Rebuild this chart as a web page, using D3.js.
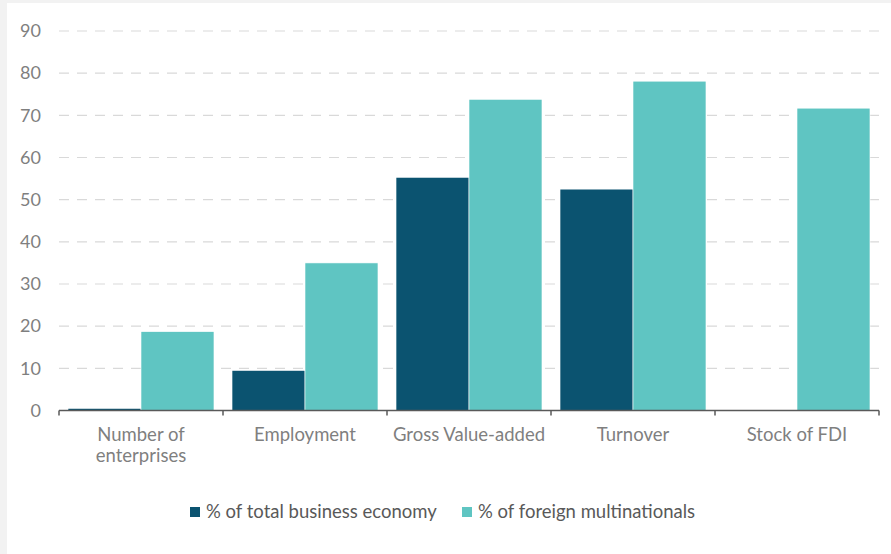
<!DOCTYPE html>
<html>
<head>
<meta charset="utf-8">
<script src="https://cdn.jsdelivr.net/npm/d3@7"></script>
<style>
  body { margin: 0; background: #f2f2f2; }
  svg { display: block; font-family: Lato, "Open Sans", sans-serif; }
</style>
</head>
<body>
<div id="chart"></div>
<script>
// data
var categories = [["Number of", "enterprises"], ["Employment"], ["Gross Value-added"], ["Turnover"], ["Stock of FDI"]];
var seriesNames = ["% of total business economy", "% of foreign multinationals"];
var totalEconomy = [0.5, 9.5, 55.3, 52.5, 0];
var foreignMNE = [18.7, 35.0, 73.8, 78.1, 71.7];
var yTicks = [0, 10, 20, 30, 40, 50, 60, 70, 80, 90];
var colors = ["#0b5370", "#5fc5c2"];

var width = 891, height = 554;
var plotLeft = 59, plotRight = 879, plotTop = 31, zero = 410.5;

var svg = d3.select('#chart').append('svg').attr('width', width).attr('height', height);

// light grey frame strip, white panel
svg.append('rect').attr('width', width).attr('height', height).attr('fill', '#f2f2f2');
svg.append('rect').attr('x', 7).attr('y', 3).attr('width', width - 7).attr('height', height - 3).attr('fill', '#fff');

var rows = categories.map(function(c, i){
  return { key: i, label: c, values: [totalEconomy[i], foreignMNE[i]] };
});

var x0 = d3.scaleBand().domain(d3.range(categories.length)).range([plotLeft, plotRight])
  .paddingInner(0.11).paddingOuter(0.055);
var x1 = d3.scaleBand().domain([0, 1]).range([0, x0.bandwidth()]);
var y = d3.scaleLinear().domain([0, 90]).range([zero, plotTop]);

// gridlines
svg.append('g').selectAll('line')
  .data(yTicks.filter(function(d){ return d > 0; }))
  .enter().append('line')
  .attr('x1', plotLeft).attr('x2', plotRight)
  .attr('y1', function(d){ return y(d); }).attr('y2', function(d){ return y(d); })
  .attr('stroke', '#d9d9d9').attr('stroke-width', 1.2).attr('stroke-dasharray', '10,8');

// y labels
svg.append('g').selectAll('text')
  .data(yTicks)
  .enter().append('text')
  .attr('x', 41).attr('y', function(d){ return y(d); })
  .attr('dy', '0.35em').attr('text-anchor', 'end')
  .attr('font-size', 18).attr('fill', '#7f7f7f')
  .text(function(d){ return d; });

// bars
var groups = svg.append('g').selectAll('g')
  .data(rows)
  .enter().append('g')
  .attr('transform', function(d){ return 'translate(' + x0(d.key) + ',0)'; });

groups.selectAll('rect')
  .data(function(d){ return d.values.map(function(v, j){ return { s: j, v: v }; }); })
  .enter().append('rect')
  .attr('x', function(d){ return x1(d.s); })
  .attr('width', x1.bandwidth())
  .attr('y', function(d){ return y(d.v); })
  .attr('height', function(d){ return zero - y(d.v); })
  .attr('fill', function(d){ return colors[d.s]; })
  .attr('stroke', function(d){ return d.v > 0 ? '#fff' : 'none'; })
  .attr('stroke-width', 0.6);

// x axis line and band ticks
var step = x0.step();
svg.append('line').attr('x1', plotLeft).attr('x2', plotRight).attr('y1', zero).attr('y2', zero)
  .attr('stroke', '#595959').attr('stroke-width', 1.5);
svg.append('g').selectAll('line')
  .data(d3.range(categories.length + 1))
  .enter().append('line')
  .attr('x1', function(d){ return plotLeft + d * step; })
  .attr('x2', function(d){ return plotLeft + d * step; })
  .attr('y1', zero).attr('y2', zero + 5)
  .attr('stroke', '#595959').attr('stroke-width', 1.5);

// category labels
var labels = svg.append('g').selectAll('text')
  .data(rows)
  .enter().append('text')
  .attr('x', function(d){ return x0(d.key) + x0.bandwidth() / 2; })
  .attr('y', 441)
  .attr('text-anchor', 'middle').attr('font-size', 18.5).attr('fill', '#7f7f7f');
labels.selectAll('tspan')
  .data(function(d){ return d.label; })
  .enter().append('tspan')
  .attr('x', function(){ return this.parentNode.getAttribute('x'); })
  .attr('dy', function(d, i){ return i ? 21 : 0; })
  .text(function(d){ return d; });

// legend
var legendX = [190, 462];
var legend = svg.append('g').selectAll('g')
  .data(seriesNames)
  .enter().append('g')
  .attr('transform', function(d, i){ return 'translate(' + legendX[i] + ',507)'; });
legend.append('rect').attr('width', 10).attr('height', 10)
  .attr('fill', function(d, i){ return colors[i]; });
legend.append('text').attr('x', 16).attr('y', 11)
  .attr('font-size', 18.5).attr('fill', '#595959')
  .text(function(d){ return d; });
</script>
</body>
</html>
